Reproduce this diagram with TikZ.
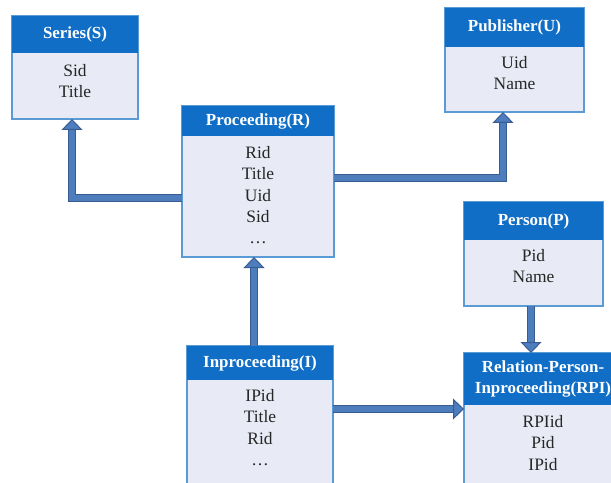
\documentclass[tikz,border=0pt]{standalone}
\usepackage{fontspec}
\setmainfont{Liberation Serif}
\usetikzlibrary{arrows.meta,calc}
\definecolor{hdrblue}{RGB}{16,110,198}
\definecolor{bodyfill}{RGB}{232,234,245}
\definecolor{boxline}{RGB}{91,155,213}
\definecolor{arrowfill}{RGB}{78,125,190}
\definecolor{arrowedge}{RGB}{56,92,145}
\begin{document}
\begin{tikzpicture}[x=1bp,y=-1bp,
  entity/.style={draw=boxline, line width=1.2bp, fill=bodyfill, anchor=north west,
    inner sep=0, outer sep=0},
  header/.style={fill=hdrblue, anchor=north west, inner sep=0, outer sep=0,
    text=white, font=\fontsize{17}{22}\selectfont\bfseries, align=center},
  fields/.style={anchor=north, inner sep=0, font=\fontsize{17.5}{21.5}\selectfont,
    align=center, text=black!85},
  link/.style={draw=arrowedge, line width=8bp, line join=miter,
    -{Triangle[width=21bp,length=11bp,line width=1bp,fill=arrowfill]},
    postaction={draw=arrowfill, line width=5.5bp, -, shorten >=11bp}}
]
\useasboundingbox (0,0) rectangle (611,483);
\clip (0,0) rectangle (611,483);

% Series
\node[entity, minimum width=126bp, minimum height=103bp] (series) at (12,16) {};
\node[header, minimum width=126bp, minimum height=37bp] (seriesH) at (12,16) {Series(S)};
\node[fields] (seriesF) at (75,64) {Sid\\Title};

% Proceeding
\node[entity, minimum width=152bp, minimum height=151bp] (proc) at (182,106) {};
\node[header, minimum width=152bp, minimum height=30bp] (procH) at (182,106) {Proceeding(R)};
\node[fields] (procF) at (258,146) {Rid\\Title\\Uid\\Sid\\…};

% Publisher
\node[entity, minimum width=139bp, minimum height=104bp] (pub) at (445,8) {};
\node[header, minimum width=139bp, minimum height=39bp] (pubH) at (445,8) {Publisher(U)};
\node[fields] (pubF) at (514.5,56) {Uid\\Name};

% Inproceeding
\node[entity, minimum width=146bp, minimum height=138bp] (inproc) at (187,346) {};
\node[header, minimum width=146bp, minimum height=34bp] (inprocH) at (187,346) {Inproceeding(I)};
\node[fields] (inprocF) at (260,389) {IPid\\Title\\Rid\\…};

% Person
\node[entity, minimum width=139bp, minimum height=104bp] (person) at (464,202) {};
\node[header, minimum width=139bp, minimum height=38bp] (personH) at (464,202) {Person(P)};
\node[fields] (personF) at (533.5,249) {Pid\\Name};

% Relation-Person-Inproceeding
\node[entity, minimum width=158bp, minimum height=131bp] (rpi) at (464,353) {};
\node[header, minimum width=158bp, minimum height=52bp] (rpiH) at (464,353) {Relation-Person-\\Inproceeding(RPI)};
\node[fields] (rpiF) at (543,415) {RPIid\\Pid\\IPid};

% References between the tables
\draw[link] ([yshift=-16.5bp]proc.west) -| ([xshift=-3bp]series.south);
\draw[link] ([yshift=3.5bp]proc.east) -| ([xshift=-11.5bp]pub.south);
\draw[link] ([xshift=-6bp]inproc.north) -- ([xshift=-6bp]inproc.north |- proc.south);
\draw[link] ([yshift=6bp]inproc.east) -- ([yshift=6bp]inproc.east -| rpi.west);
\draw[link] ([xshift=-2.5bp]person.south) -- ([xshift=-2.5bp]person.south |- rpi.north);
\end{tikzpicture}
\end{document}
